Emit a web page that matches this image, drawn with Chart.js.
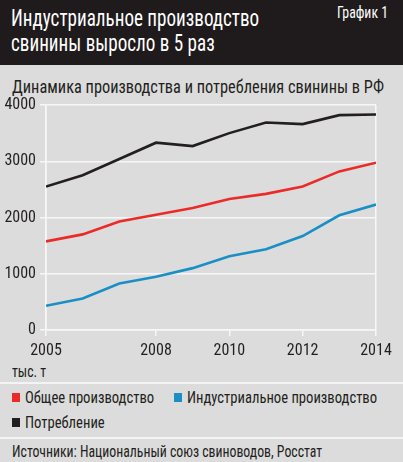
<!DOCTYPE html>
<html lang="ru">
<head>
<meta charset="utf-8">
<script src="https://cdn.jsdelivr.net/npm/chart.js@4.4.1/dist/chart.umd.min.js"></script>
<style>
  html, body { margin: 0; padding: 0; }
  body {
    width: 403px; height: 462px; overflow: hidden; position: relative;
    background: #dcdcdc;
    font-family: 'Roboto Condensed', 'DejaVu Sans Condensed', sans-serif;
    color: #231f20;
  }
  .cx { display: inline-block; white-space: nowrap; transform: scaleX(0.86); transform-origin: 0 0; }
  .header { position: absolute; left: 0; top: 0; width: 403px; height: 65px; background: #1f1b1c; }
  .title { position: absolute; left: 11px; top: 6px; color: #fff; font-size: 23px; line-height: 25px; }
  .title .cx { transform: scaleX(0.83); }
  .tag { position: absolute; left: 337px; top: 3px; color: #fff; font-size: 16px; }
  .subtitle { position: absolute; left: 12px; top: 75px; font-size: 19px; }
  .units { position: absolute; left: 12px; top: 362px; font-size: 16px; }
  .sep { position: absolute; left: 0; width: 403px; height: 2px; background: #f4f4f4; }
  .item { position: absolute; font-size: 17px; line-height: 18px; white-space: nowrap; }
  .item i { position: absolute; left: 0; top: 5px; width: 8px; height: 9px; }
  .item span { position: absolute; left: 13px; top: 0; }
  .source { position: absolute; left: 12px; top: 442px; font-size: 16px; }
  #wrap { position: absolute; left: 0; top: 90px; width: 403px; height: 270px; }
</style>
</head>
<body>
<div class="header">
  <div class="title"><span class="cx">Индустриальное производство<br>свинины выросло в 5 раз</span></div>
  <div class="tag"><span class="cx">График 1</span></div>
</div>
<div class="subtitle"><span class="cx">Динамика производства и потребления свинины в РФ</span></div>
<div id="wrap"><canvas id="chart"></canvas></div>
<div class="units"><span class="cx">тыс. т</span></div>
<div class="sep" style="top:382px"></div>
<div id="legend"></div>
<div class="sep" style="top:437px"></div>
<div class="source"><span class="cx">Источники: Национальный союз свиноводов, Росстат</span></div>

<script>
const years = [2005, 2006, 2007, 2008, 2009, 2010, 2011, 2012, 2013, 2014];
const totalProduction = [1575, 1700, 1930, 2050, 2170, 2330, 2420, 2550, 2820, 2975];
const industrialProduction = [430, 560, 825, 945, 1100, 1310, 1435, 1670, 2040, 2230];
const consumption = [2550, 2750, 3040, 3330, 3270, 3500, 3690, 3660, 3820, 3830];
const xTickLabels = [2005, 2008, 2010, 2012, 2014];
const yTickLabels = [0, 1000, 2000, 3000, 4000];

const seriesNames = ['Общее производство', 'Индустриальное производство', 'Потребление'];
const seriesColors = ['#ec2a27', '#1a8fc6', '#231f20'];
const seriesData = [totalProduction, industrialProduction, consumption];

// legend slots as in the original: two on the first row, one on the second
const legendSlots = [[12, 388], [174, 388], [12, 413]];

const FONT = "'Roboto Condensed', 'DejaVu Sans Condensed', sans-serif";
const TEXT = '#231f20';
const GRID = '#f7f7f7';

function buildLegend() {
    const box = document.getElementById('legend');
    seriesNames.forEach((name, i) => {
        const item = document.createElement('div');
        item.className = 'item';
        item.style.left = legendSlots[i][0] + 'px';
        item.style.top = legendSlots[i][1] + 'px';
        item.innerHTML = '<i style="background:' + seriesColors[i] + '"></i><span class="cx">' + name + '</span>';
        box.appendChild(item);
    });
}

function initChart() {
    const datasets = seriesData.map((values, i) => ({
        label: seriesNames[i],
        data: values.map((v, j) => ({ x: years[j], y: v })),
        borderColor: seriesColors[i],
        backgroundColor: seriesColors[i],
        borderWidth: 2.6,
        pointRadius: 0,
        tension: 0,
        order: 2 - i,
    }));

    new Chart(document.getElementById('chart'), {
        type: 'line',
        data: { datasets },
        options: {
            responsive: true,
            maintainAspectRatio: false,
            animation: false,
            layout: { padding: { top: 15, right: 27, left: 0, bottom: 0 } },
            plugins: {
                legend: { display: false },
                tooltip: { enabled: false },
            },
            scales: {
                x: {
                    type: 'linear',
                    min: years[0],
                    max: years[years.length - 1],
                    afterBuildTicks: (scale) => {
                        scale.ticks = xTickLabels.map((v) => ({ value: v }));
                    },
                    afterFit: (scale) => { scale.height = 30; },
                    ticks: {
                        color: TEXT,
                        font: { family: FONT, size: 16 },
                        padding: 5,
                        maxRotation: 0,
                        autoSkip: false,
                        callback: (v) => String(v),
                    },
                    grid: {
                        color: (ctx) => (ctx.index === 0 || ctx.index === xTickLabels.length - 1) ? GRID : 'rgba(0,0,0,0)',
                        tickColor: GRID,
                        tickLength: 6,
                        lineWidth: 1.5,
                    },
                    border: { display: true, color: GRID, width: 1.5 },
                },
                y: {
                    min: yTickLabels[0],
                    max: yTickLabels[yTickLabels.length - 1],
                    afterBuildTicks: (scale) => {
                        scale.ticks = yTickLabels.map((v) => ({ value: v }));
                    },
                    afterFit: (scale) => { scale.width = 46; },
                    ticks: {
                        color: TEXT,
                        font: { family: FONT, size: 16 },
                        padding: 4,
                        callback: (v) => String(v),
                    },
                    grid: {
                        color: GRID,
                        tickColor: GRID,
                        tickLength: 6,
                        lineWidth: 1.5,
                    },
                    border: { display: true, color: GRID, width: 1.5 },
                },
            },
        },
    });
}

buildLegend();
initChart();
</script>
</body>
</html>
